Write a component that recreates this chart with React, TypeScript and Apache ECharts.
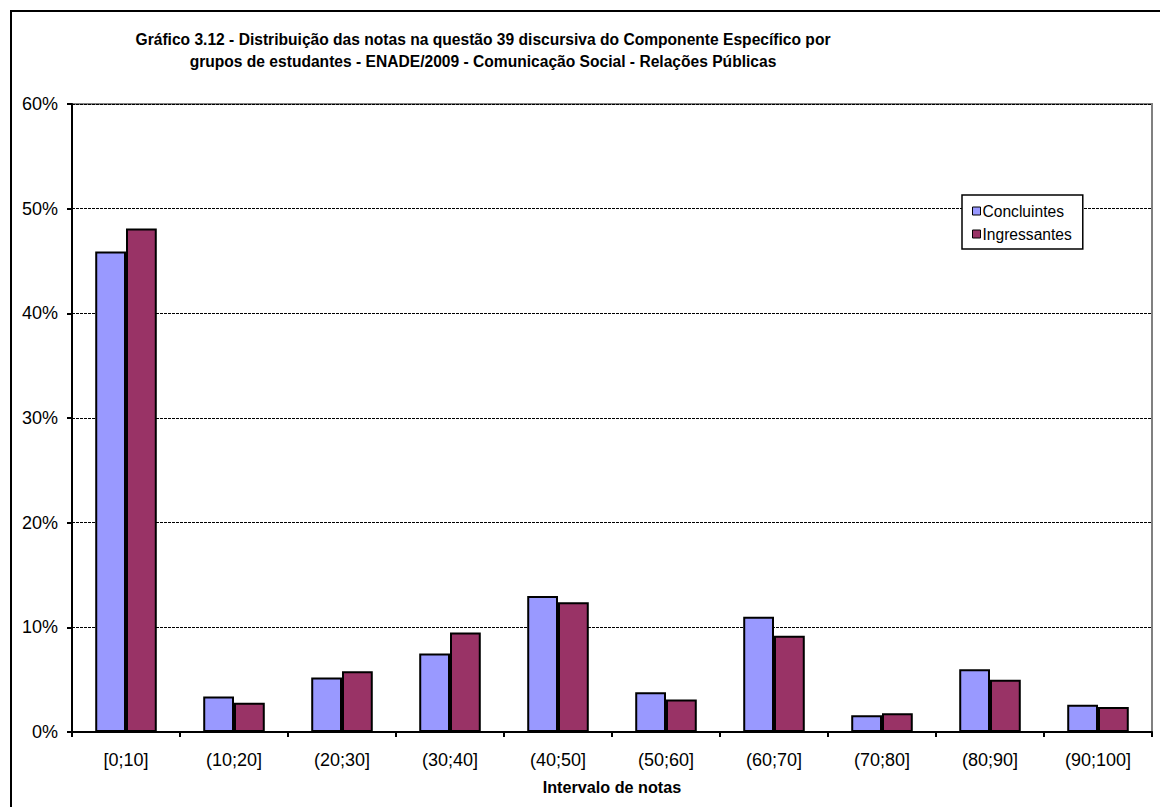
import React, { useEffect, useRef } from "react";
import * as echarts from "echarts";

const categories = ["[0;10]", "(10;20]", "(20;30]", "(30;40]", "(40;50]", "(50;60]", "(60;70]", "(70;80]", "(80;90]", "(90;100]"];
const concluintes = [45.9, 3.4, 5.2, 7.5, 13.0, 3.8, 11.0, 1.6, 6.0, 2.6];
const ingressantes = [48.1, 2.8, 5.8, 9.5, 12.4, 3.1, 9.2, 1.8, 5.0, 2.4];
const seriesNames = ["Concluintes", "Ingressantes"];
const titleLines = [
  "Gráfico 3.12 - Distribuição das notas na questão 39 discursiva do Componente Específico por",
  "grupos de estudantes - ENADE/2009 - Comunicação Social - Relações Públicas",
];
const xAxisName = "Intervalo de notas";
const yMin = 0;
const yMax = 60;
const yInterval = 10;

const FONT = 'Arial, "Liberation Sans", sans-serif';

export default function App() {
  const ref = useRef<HTMLDivElement>(null);
  useEffect(() => {
    if (!ref.current) return;
    const chart = echarts.init(ref.current, null, { renderer: "svg" });
    chart.setOption({
      animation: false,
      backgroundColor: "#fff",
      textStyle: { fontFamily: FONT },
      graphic: [
        {
          type: "rect",
          shape: { x: 11, y: 11, width: 1200, height: 850 },
          style: { fill: "none", stroke: "#000", lineWidth: 2 },
          silent: true,
        },
        {
          type: "text",
          x: 483,
          y: 29,
          style: {
            text: titleLines.join("\n"),
            textAlign: "center",
            textVerticalAlign: "top",
            font: "bold 15.6px " + FONT,
            lineHeight: 21.5,
            fill: "#000",
          },
        },
      ],
      legend: {
        orient: "vertical",
        left: 962,
        top: 195,
        data: seriesNames,
        icon: "rect",
        itemWidth: 8,
        itemHeight: 8,
        itemGap: 7,
        padding: [8, 11, 7, 10],
        backgroundColor: "#fff",
        borderColor: "#000",
        borderWidth: 1.5,
        textStyle: { fontFamily: FONT, fontSize: 15.6, color: "#000", padding: [0, 0, 0, -3] },
        itemStyle: { borderColor: "#000", borderWidth: 1 },
      },
      grid: {
        left: 72,
        right: 8,
        top: 104,
        bottom: 75,
        show: true,
        borderColor: "#808080",
        borderWidth: 2,
        backgroundColor: "#fff",
      },
      xAxis: {
        type: "category",
        data: categories,
        boundaryGap: true,
        name: xAxisName,
        nameLocation: "middle",
        nameGap: 47,
        nameTextStyle: { fontFamily: FONT, fontSize: 16.2, fontWeight: "bold", color: "#000" },
        axisLine: { show: true, lineStyle: { color: "#000", width: 2 } },
        axisTick: { show: true, length: 5, inside: false, alignWithLabel: false, lineStyle: { color: "#000", width: 2 } },
        axisLabel: { fontFamily: FONT, fontSize: 18, color: "#000", margin: 19, interval: 0 },
        splitLine: { show: false },
      },
      yAxis: {
        type: "value",
        min: yMin,
        max: yMax,
        interval: yInterval,
        axisLine: { show: true, lineStyle: { color: "#000", width: 2 } },
        axisTick: { show: true, length: 5, inside: false, lineStyle: { color: "#000", width: 2 } },
        axisLabel: { fontFamily: FONT, fontSize: 18, color: "#000", margin: 14, formatter: "{value}%" },
        splitLine: { show: true, lineStyle: { color: "#000", width: 1, type: [3, 1] } },
      },
      series: [
        {
          name: seriesNames[0],
          type: "bar",
          data: concluintes,
          barGap: "0%",
          barCategoryGap: "43%",
          itemStyle: { color: "#9999FF", borderColor: "#000", borderWidth: 2 },
        },
        {
          name: seriesNames[1],
          type: "bar",
          data: ingressantes,
          barGap: "0%",
          barCategoryGap: "43%",
          itemStyle: { color: "#993366", borderColor: "#000", borderWidth: 2 },
        },
      ],
    });
    return () => chart.dispose();
  }, []);
  return (
    <div
      ref={ref}
      style={{ position: "absolute", left: 0, top: 0, width: 1160, height: 807 }}
    />
  );
}
